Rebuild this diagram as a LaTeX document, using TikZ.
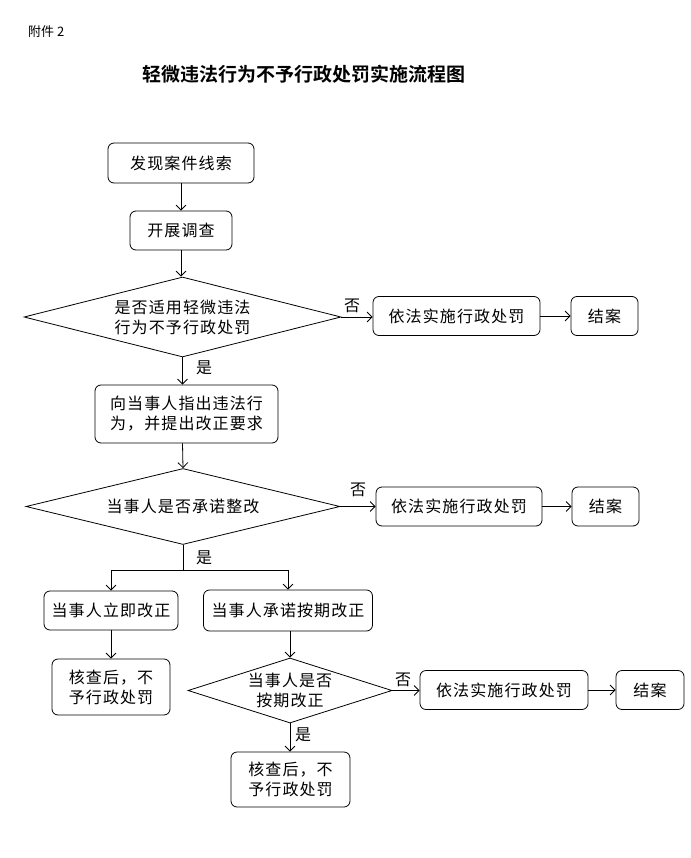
\documentclass[tikz,border=0pt]{standalone}
\usepackage{fontspec}
\newfontfamily\cjk[LetterSpace=7]{Noto Sans CJK SC}
\newfontfamily\cjkplain{Noto Sans CJK SC}
\newfontfamily\cjkbold{Noto Sans CJK SC Bold}
\usetikzlibrary{shapes.geometric,arrows.meta}
\begin{document}
\begin{tikzpicture}[x=1pt,y=-1pt,
  every node/.style={font=\cjk\fontsize{16}{20}\selectfont},
  box/.style={draw,rounded corners=6pt,line width=0.8pt,align=center,inner sep=0pt},
  dia/.style={draw,diamond,line width=0.8pt,inner sep=0pt},
  arr/.style={line width=0.8pt,-{Straight Barb[length=5pt,width=10pt]}},
  ln/.style={line width=0.8pt},
  lab/.style={inner sep=0pt}]
\useasboundingbox (0,0) rectangle (690,858);
\node[anchor=west,inner sep=0pt,font=\cjkplain\fontsize{13}{15}\selectfont] (att) at (28,32) {附件 2};
\node[inner sep=0pt,font=\cjkbold\fontsize{19}{22}\selectfont] (title) at (304,74) {轻微违法行为不予行政处罚实施流程图};

\node[box,minimum width=146pt,minimum height=40pt] (b1) at (181,163) {发现案件线索};
\node[box,minimum width=102pt,minimum height=39pt] (b2) at (181,230.5) {开展调查};
\node[dia,minimum width=317pt,minimum height=80pt,
  label={[align=center,font=\cjk\fontsize{16}{20}\selectfont]center:是否适用轻微违法\\行为不予行政处罚}] (d1) at (182.5,317) {};
\node[box,minimum width=167pt,minimum height=39pt] (p1) at (456.5,316) {依法实施行政处罚};
\node[box,minimum width=67pt,minimum height=39pt] (e1) at (604.5,316) {结案};

\node[box,minimum width=183pt,minimum height=58pt] (b3) at (186.5,414) {向当事人指出违法行\\为，并提出改正要求};
\node[dia,minimum width=314pt,minimum height=76pt,
  label={[font=\cjk\fontsize{16}{20}\selectfont]center:当事人是否承诺整改}] (d2) at (183,506.5) {};
\node[box,minimum width=166pt,minimum height=39pt] (p2) at (459,506.5) {依法实施行政处罚};
\node[box,minimum width=67pt,minimum height=39pt] (e2) at (605.5,506.5) {结案};

\coordinate (j) at (183,570);
\node[box,minimum width=134pt,minimum height=39pt] (bl) at (111,610.5) {当事人立即改正};
\node[box,minimum width=169pt,minimum height=41pt] (br) at (288,610.5) {当事人承诺按期改正};
\node[box,minimum width=118pt,minimum height=56pt] (cl) at (111,687) {核查后，不\\予行政处罚};
\node[dia,minimum width=204pt,minimum height=65pt,
  label={[align=center,font=\cjk\fontsize{16}{20}\selectfont]center:当事人是否\\按期改正}] (d3) at (290,690.5) {};
\node[box,minimum width=168pt,minimum height=39pt] (p3) at (504,690) {依法实施行政处罚};
\node[box,minimum width=68pt,minimum height=39pt] (e3) at (650,690) {结案};
\node[box,minimum width=119pt,minimum height=55pt] (cr) at (290.5,779.5) {核查后，不\\予行政处罚};

\draw[arr] (b1.south -| b1) -- (b2.north);
\draw[arr] (b2.south) -- (d1.north -| b2);
\draw[arr] (d1.east) -- (p1.west |- d1.east);
\draw[arr] (p1.east) -- (e1.west);
\draw[arr] (d1.south) -- (d1.south |- b3.north);
\draw[arr] (b3.south -| d1.south) -- (d2.north);
\draw[arr] (d2.east) -- (p2.west);
\draw[arr] (p2.east) -- (e2.west);
\draw[ln] (d2.south) -- (j);
\draw[ln] (j -| bl) -- (j -| br);
\draw[arr] (j -| bl) -- (bl.north);
\draw[arr] (j -| br) -- (br.north);
\draw[arr] (bl.south) -- (cl.north);
\draw[arr] (br.south -| d3) -- (d3.north);
\draw[arr] (d3.east) -- (p3.west |- d3.east);
\draw[arr] (p3.east) -- (e3.west);
\draw[arr] (d3.south) -- (cr.north -| d3.south);

\node[lab] (n1) at (352,306) {否};
\node[lab] (n2) at (358,490) {否};
\node[lab] (n3) at (403,680) {否};
\node[lab] (y1) at (204,368) {是};
\node[lab] (y2) at (204,558) {是};
\node[lab] (y3) at (303,735) {是};
\end{tikzpicture}
\end{document}
